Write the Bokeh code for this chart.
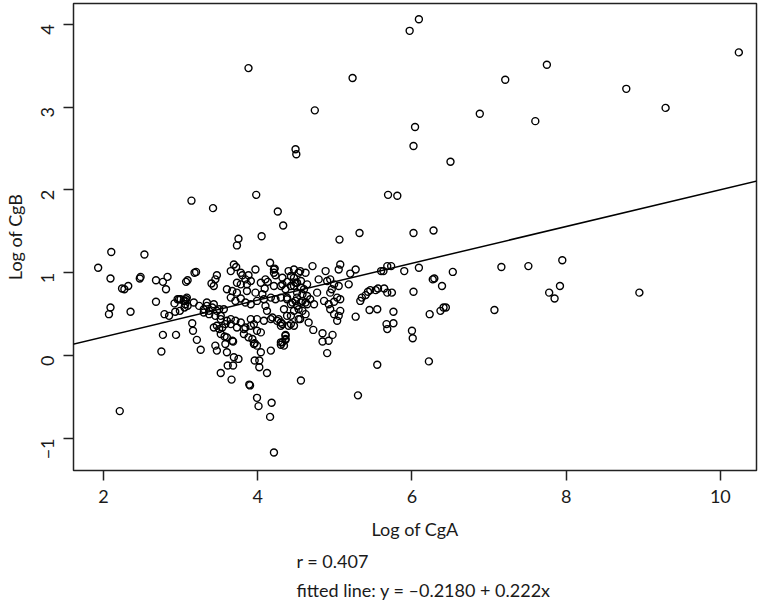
import math
from bokeh.plotting import figure
from bokeh.models import ColumnDataSource, Slope, Title, Range1d, FixedTicker
from bokeh.embed import file_html
from bokeh.resources import INLINE

# ---- data ----
log_cga = [
    3.88, 4.49, 4.50, 3.98, 3.14, 6.09, 5.97, 5.23, 4.74, 7.75, 7.21, 6.88, 7.60, 6.04, 6.02, 6.50, 5.69, 5.81, 10.24, 8.78, 9.29,
    3.42, 4.26, 4.33, 4.05, 3.75, 3.73, 5.32, 5.06, 6.02, 6.28,
    2.10, 2.53, 1.93, 2.09, 2.24, 2.27, 2.32, 2.47, 2.48, 2.68, 2.77, 2.83, 2.81, 3.07, 3.09, 3.20, 3.18,
    2.68, 2.09, 2.07, 2.35, 2.79, 2.85, 2.92, 2.96, 2.93, 2.99, 3.05, 3.07, 3.06,
    2.77, 2.94, 2.75, 2.21,
    3.15, 3.16, 3.21, 3.26,
    2.98, 3.04, 3.08,
    3.47, 3.45, 3.40, 3.43,
    3.69, 3.72, 3.65, 3.78,
    3.80, 3.88, 3.84, 3.91, 3.86, 3.78, 3.73,
    4.16, 4.22, 4.21, 4.40, 4.32, 4.53, 4.62,
    4.04, 4.13, 4.09, 4.21, 4.30, 4.38, 4.43, 4.49, 4.56, 4.60,
    3.60, 3.67, 3.73, 3.86, 3.97, 4.06,
    3.00, 3.06, 3.09, 3.17, 3.24, 3.30, 3.34, 3.43, 3.37, 3.47, 3.56,
    3.65, 3.71, 3.78, 3.84, 3.91, 3.99, 4.08, 4.17, 4.23, 4.30, 4.38, 4.45, 4.51, 4.58, 4.64,
    3.45, 3.52, 3.47, 3.54, 3.60, 3.65, 3.73, 3.82, 3.91, 3.99, 4.08, 4.17, 4.25, 4.32, 4.40, 4.53,
    3.45, 3.47, 3.58, 3.60, 3.67, 3.60, 3.69, 3.75,
    3.82, 3.88, 3.93, 3.95, 3.99, 4.04, 4.02,
    4.10, 4.12,
    4.19, 4.27, 4.30, 4.43, 4.47, 4.51, 4.58, 4.62, 4.66,
    4.30, 4.36, 4.34, 4.17,
    3.57, 3.68, 3.68, 3.61, 3.52, 3.66, 3.89, 3.90, 3.99, 4.01, 4.18, 4.16, 4.21, 3.96, 4.02, 4.12, 3.96, 4.30, 4.36, 4.36, 4.56,
    5.68, 5.73, 5.60, 5.63, 5.90, 6.09, 6.53, 6.27, 6.29, 6.39, 6.02, 6.23, 6.37, 6.41, 6.44, 6.00, 6.01, 6.22, 5.55, 4.90,
    4.84, 4.97, 4.84, 4.92, 4.72, 5.27, 5.45, 5.55, 5.76, 5.67, 5.76, 5.68,
    5.35, 5.33, 5.40, 5.43, 5.46, 5.53, 5.56, 5.64, 5.68, 5.74,
    5.18, 5.20, 5.07, 5.05, 5.27,
    4.88, 4.71, 4.55, 4.43,
    4.79, 4.90, 4.94, 4.99, 5.05, 4.96, 4.94, 5.03, 5.07, 4.99, 4.86, 4.92,
    4.77, 4.73, 4.68, 4.64, 4.58, 4.51, 4.49, 4.56, 4.62, 4.43, 4.38, 4.47, 4.56, 4.64, 4.36, 4.32,
    5.07, 5.05, 4.94, 4.99, 5.03,
    4.38, 4.43, 4.47, 4.34, 4.30, 4.36, 4.32,
    4.55, 4.53,
    7.16, 7.51, 7.95, 7.07, 7.78, 7.85, 7.92, 8.95,
    5.30,
    3.34, 3.41, 3.30, 3.37, 3.50, 3.52, 3.43, 3.50, 3.58, 3.52,
    3.65, 3.71, 3.78, 3.84, 3.91, 3.95, 3.99, 4.04,
    3.97, 4.10, 4.21, 4.23, 4.47, 4.51, 4.47,
]
log_cgb = [
    3.47, 2.49, 2.43, 1.94, 1.87, 4.06, 3.92, 3.35, 2.96, 3.51, 3.33, 2.92, 2.83, 2.76, 2.53, 2.34, 1.94, 1.93, 3.66, 3.22, 2.99,
    1.78, 1.74, 1.57, 1.44, 1.41, 1.33, 1.48, 1.40, 1.48, 1.51,
    1.25, 1.22, 1.06, 0.93, 0.81, 0.80, 0.84, 0.93, 0.95, 0.91, 0.89, 0.95, 0.80, 0.89, 0.91, 1.01, 1.00,
    0.65, 0.58, 0.50, 0.53, 0.50, 0.48, 0.63, 0.68, 0.53, 0.54, 0.58, 0.68, 0.62,
    0.25, 0.25, 0.05, -0.67,
    0.39, 0.30, 0.19, 0.07,
    0.68, 0.66, 0.70,
    0.97, 0.92, 0.87, 0.84,
    1.10, 1.07, 1.02, 1.00,
    0.97, 0.97, 0.92, 0.90, 0.86, 0.86, 0.88,
    1.12, 1.05, 1.00, 1.02, 0.94, 1.00, 1.00,
    0.88, 0.89, 0.81, 0.84, 0.84, 0.89, 0.84, 0.88, 0.82, 0.80,
    0.80, 0.78, 0.76, 0.78, 0.76, 0.74,
    0.68, 0.66, 0.60, 0.64, 0.60, 0.56, 0.60, 0.62, 0.54, 0.54, 0.56,
    0.70, 0.66, 0.69, 0.64, 0.62, 0.66, 0.68, 0.70, 0.68, 0.70, 0.68, 0.64, 0.70, 0.66, 0.62,
    0.48, 0.44, 0.36, 0.34, 0.42, 0.38, 0.34, 0.32, 0.36, 0.44, 0.42, 0.44, 0.42, 0.38, 0.36, 0.44,
    0.12, 0.06, 0.14, 0.22, 0.18, 0.04, -0.02, -0.04,
    0.26, 0.22, 0.20, 0.14, 0.12, 0.04, -0.06,
    0.60, 0.54,
    0.46, 0.44, 0.40, 0.48, 0.54, 0.60, 0.54, 0.50, 0.40,
    0.16, 0.20, 0.12, 0.06,
    0.23, 0.17, -0.12, -0.12, -0.21, -0.29, -0.35, -0.36, -0.51, -0.61, -0.57, -0.74, -1.17, -0.06, -0.14, -0.21, 0.15, 0.13, 0.19, 0.25, -0.30,
    1.08, 1.08, 1.02, 1.02, 1.02, 1.06, 1.01, 0.92, 0.93, 0.84, 0.77, 0.50, 0.54, 0.58, 0.58, 0.30, 0.21, -0.07, -0.11, 0.03,
    0.27, 0.25, 0.17, 0.18, 0.31, 0.47, 0.55, 0.56, 0.53, 0.38, 0.39, 0.32,
    0.70, 0.66, 0.73, 0.77, 0.79, 0.79, 0.81, 0.81, 0.76, 0.76,
    0.86, 0.99, 1.10, 1.04, 1.04,
    1.02, 1.08, 1.02, 0.96,
    0.92, 0.90, 0.92, 0.86, 0.84, 0.80, 0.76, 0.70, 0.68, 0.65, 0.66, 0.62,
    0.76, 0.62, 0.68, 0.72, 0.74, 0.76, 0.66, 0.64, 0.64, 0.62, 0.70, 0.84, 0.90, 0.86, 0.80, 0.86,
    0.54, 0.48, 0.56, 0.50, 0.42,
    0.48, 0.38, 0.36, 0.56, 0.36, 0.24, 0.16,
    0.44, 0.56,
    1.07, 1.08, 1.15, 0.55, 0.76, 0.69, 0.84, 0.76,
    -0.48,
    0.64, 0.58, 0.52, 0.50, 0.56, 0.48, 0.34, 0.32, 0.38, 0.26,
    0.44, 0.42, 0.40, 0.34, 0.44, 0.38, 0.30, 0.28,
    1.04, 0.92, 1.04, 0.97, 0.94, 0.88, 1.04,
]
fit_intercept = -0.2180
fit_slope = 0.222
r_value = 0.407
x_ticks = [2, 4, 6, 8, 10]
y_ticks = [-1, 0, 1, 2, 3, 4]

n = min(len(log_cga), len(log_cgb))
src = ColumnDataSource(data=dict(x=log_cga[:n], y=log_cgb[:n]))

FONT = "Lato"
FS = "18px"
TXT = "#1a1a1a"

p = figure(width=758, height=600, output_backend="svg", toolbar_location=None,
           x_range=Range1d(1.61, 10.469), y_range=Range1d(-1.387, 4.25),
           min_border_left=73, min_border_right=2, min_border_top=3, min_border_bottom=130)
p.grid.visible = False
p.background_fill_color = "white"
p.border_fill_color = "white"
p.outline_line_color = "#222222"
p.outline_line_width = 1.5

p.scatter("x", "y", source=src, marker="circle", size=7, fill_color=None,
          line_color="black", line_width=1.4)
p.add_layout(Slope(gradient=fit_slope, y_intercept=fit_intercept,
                   line_color="black", line_width=1.5))

for ax in (p.xaxis[0], p.yaxis[0]):
    ax.axis_line_color = None
    ax.major_tick_line_color = "#222222"
    ax.major_tick_line_width = 1.5
    ax.major_tick_out = 10
    ax.major_tick_in = 0
    ax.minor_tick_line_color = None
    ax.major_label_text_font = FONT
    ax.major_label_text_font_size = FS
    ax.major_label_text_color = TXT
    ax.axis_label_text_font = FONT
    ax.axis_label_text_font_size = FS
    ax.axis_label_text_font_style = "normal"
    ax.axis_label_text_color = TXT

p.xaxis[0].ticker = FixedTicker(ticks=x_ticks)
p.yaxis[0].ticker = FixedTicker(ticks=y_ticks)
p.xaxis[0].axis_label = "Log of CgA"
p.yaxis[0].axis_label = "Log of CgB"
p.xaxis[0].major_label_standoff = 9
p.xaxis[0].axis_label_standoff = 12
p.yaxis[0].major_label_orientation = math.pi / 2
p.yaxis[0].major_label_standoff = 16
p.yaxis[0].axis_label_standoff = 6

t1 = Title(text=f"r = {r_value}", align="left", offset=223,
           text_font=FONT, text_font_size=FS, text_font_style="normal",
           text_color=TXT, standoff=10)
t2 = Title(text=f"fitted line: y = \u2013{abs(fit_intercept):.4f} + {fit_slope}x", align="left", offset=223,
           text_font=FONT, text_font_size=FS, text_font_style="normal",
           text_color=TXT, standoff=0)
p.add_layout(t1, "below")
p.add_layout(t2, "below")

open("out.html", "w").write(file_html(p, INLINE))
